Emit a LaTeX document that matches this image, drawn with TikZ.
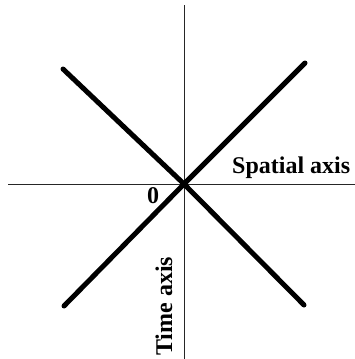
\documentclass[tikz,border=0pt]{standalone}
\usepackage{fontspec}
\setmainfont{Liberation Serif}
\begin{document}
\begin{tikzpicture}[x=1pt,y=-1pt,
  axisline/.style={line width=1pt,draw=black!85},
  coneline/.style={line width=5pt,draw=black,line cap=round},
  lbl/.style={font=\bfseries\fontsize{24}{28}\selectfont,inner sep=0pt}]
\useasboundingbox (0,0) rectangle (355,359);
\coordinate (O) at (184,184);
\coordinate (xl) at (8,184);
\coordinate (xr) at (355,184);
\coordinate (yt) at (184,5);
\coordinate (yb) at (184,359);
\coordinate (tl) at (63,69);
\coordinate (tr) at (305,63);
\coordinate (bl) at (64,306);
\coordinate (br) at (304,305);
\draw[axisline] (xl) -- (xr);
\draw[axisline] (yt) -- (yb);
\draw[coneline] (tl) -- (O) -- (br);
\draw[coneline] (tr) -- (O) -- (bl);
\node[lbl,anchor=base west] (sp) at (232,173) {Spatial axis};
\node[lbl,anchor=base west] (zero) at (147,203) {0};
\node[lbl,anchor=base west,rotate=90] (tm) at (172,356) {Time axis};
\end{tikzpicture}
\end{document}
